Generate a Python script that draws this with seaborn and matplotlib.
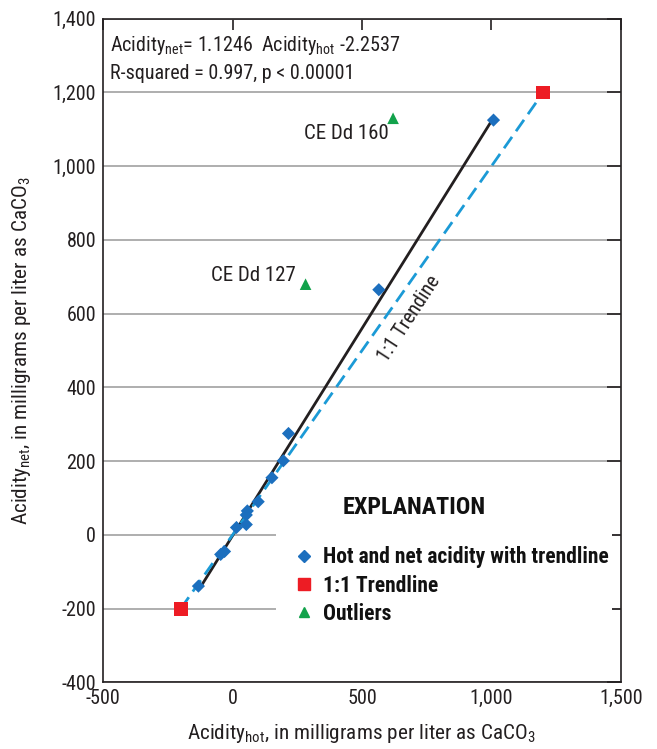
import matplotlib
matplotlib.use("Agg")

import logging
import matplotlib.pyplot as plt
import matplotlib.patches as mpatches
from matplotlib.ticker import FuncFormatter
import seaborn as sns
import pandas as pd
import numpy as np

logging.getLogger("matplotlib.font_manager").setLevel(logging.ERROR)

# hot vs net acidity, mg/L as CaCO3
hot_acidity = [1008, 565, 216, 196, 152, 99, 57, 53, 53, 15, -31, -46, -132]
net_acidity = [1125, 665, 275, 201, 155, 90, 65, 54, 28, 20, -45, -53, -139]

# 1:1 reference points
one_to_one = [-200, 1200]

# outliers
outlier_hot = [620, 282]
outlier_net = [1130, 680]
outlier_names = ["CE Dd 160", "CE Dd 127"]

# regression
slope = 1.1246
intercept = -2.2537
fit_range = [-130, 1008]

BLUE = "#1c6fbe"
RED = "#ed1c24"
GREEN = "#12a24b"
DASH_BLUE = "#1b9ad6"
INK = "#231f20"

sns.set_theme(style="white")
plt.rcParams["font.family"] = ["Roboto Condensed", "Liberation Sans Narrow",
                               "Roboto", "DejaVu Sans"]
plt.rcParams["mathtext.default"] = "regular"

fig = plt.figure(figsize=(6.57, 7.49), dpi=100)
ax = fig.add_axes([0.157, 0.089, 0.788, 0.886])

pts = pd.DataFrame({"hot": hot_acidity, "net": net_acidity})
ref = pd.DataFrame({"hot": one_to_one, "net": one_to_one})
out = pd.DataFrame({"hot": outlier_hot, "net": outlier_net})
fit = pd.DataFrame({"hot": fit_range})
fit["net"] = slope * fit["hot"] + intercept

# lines
sns.lineplot(data=fit, x="hot", y="net", color=INK, lw=2, ax=ax, zorder=3)
ax.plot(ref["hot"], ref["net"], color=DASH_BLUE, lw=2,
        linestyle=(0, (5, 2.5)), zorder=3)

# points
sns.scatterplot(data=pts, x="hot", y="net", marker="D", s=45, color=BLUE,
                edgecolor="none", ax=ax, zorder=4)
sns.scatterplot(data=ref, x="hot", y="net", marker="s", s=100, color=RED,
                edgecolor="none", ax=ax, zorder=4)
sns.scatterplot(data=out, x="hot", y="net", marker="^", s=70, color=GREEN,
                edgecolor="none", ax=ax, zorder=4)

# outlier labels, offset (points) from their marker
label_offsets = [(-3, -11), (-7, 6)]
for name, x, y, off in zip(outlier_names, outlier_hot, outlier_net,
                           label_offsets):
    ax.annotate(name, (x, y), xytext=off, textcoords="offset points",
                ha="right", va="center", fontsize=15, color=INK)

ax.text(683, 585, "1:1 Trendine", rotation=57, ha="center", va="center",
        fontsize=14.5, color=INK)

# equation text
ax.text(0.014, 0.959, "Acidity$_{net}$= 1.1246  Acidity$_{hot}$ -2.2537",
        transform=ax.transAxes, ha="left", va="center", fontsize=14.5,
        color=INK)
ax.text(0.014, 0.917, "R-squared = 0.997, p < 0.00001",
        transform=ax.transAxes, ha="left", va="center", fontsize=14.5,
        color=INK)

ax.set_xlim(-500, 1500)
ax.set_ylim(-400, 1400)
ax.set_xticks(np.arange(-500, 1501, 500))
ax.set_yticks(np.arange(-400, 1401, 200))
fmt = FuncFormatter(lambda v, p: f"{v:,.0f}")
ax.xaxis.set_major_formatter(fmt)
ax.yaxis.set_major_formatter(fmt)
ax.tick_params(axis="x", bottom=False, top=True, direction="in", length=8,
               width=1.2, color=INK, labelsize=14.5, labelcolor=INK, pad=5)
ax.tick_params(axis="y", left=False, right=True, direction="in", length=10,
               width=1.2, color=INK, labelsize=14.5, labelcolor=INK, pad=5)

ax.yaxis.grid(True, color="#a8a8a8", lw=1.3, zorder=0)
ax.xaxis.grid(False)
ax.set_axisbelow(True)
for s in ax.spines.values():
    s.set_color(INK)
    s.set_linewidth(1.2)

ax.set_xlabel("Acidity$_{hot}$, in milligrams per liter as CaCO$_3$",
              fontsize=15.3, color=INK, labelpad=10)
ax.set_ylabel("Acidity$_{net}$, in milligrams per liter as CaCO$_3$",
              fontsize=15.3, color=INK, labelpad=14)

# explanation block
ax.add_patch(mpatches.Rectangle((0.334, 0.07), 0.648, 0.23,
                                transform=ax.transAxes, facecolor="white",
                                edgecolor="none", zorder=1))
ax.text(0.601, 0.264, "EXPLANATION", transform=ax.transAxes, ha="center",
        va="center", fontsize=17.4, fontweight="bold", color="#111111",
        zorder=5)
handles = [
    plt.Line2D([], [], marker="D", ls="none", color=BLUE, markersize=6),
    plt.Line2D([], [], marker="s", ls="none", color=RED, markersize=8.5),
    plt.Line2D([], [], marker="^", ls="none", color=GREEN, markersize=7.5),
]
labels = ["Hot and net acidity with trendline", "1:1 Trendline", "Outliers"]
leg = ax.legend(handles, labels, loc="upper left",
                bbox_to_anchor=(0.345, 0.228), frameon=False,
                prop={"weight": "bold", "size": 15.5}, handlelength=0.7,
                handletextpad=0.5, labelspacing=0.3, borderpad=0.2)
for t in leg.get_texts():
    t.set_color("#111111")

fig.savefig("out.png", dpi=100)
plt.close(fig)
